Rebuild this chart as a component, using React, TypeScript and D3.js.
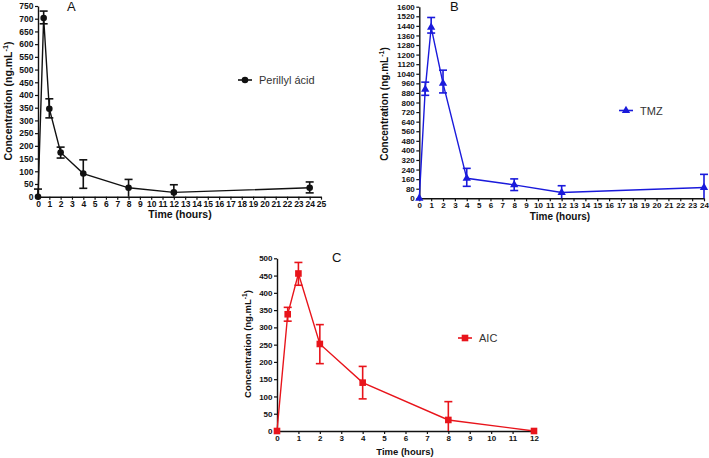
import { useEffect, useRef } from 'react'
import * as d3 from 'd3'

// sampling times (hours)
const timesA = [0, 0.5, 1, 2, 4, 8, 12, 24]
const timesB = [0, 0.5, 1, 2, 4, 8, 12, 24]
const timesC = [0, 0.5, 1, 2, 4, 8, 12]

// mean concentrations and error bar ends (ng/mL)
const meanA = [0, 703, 346, 174, 91, 35, 17, 35]
const hiA = [30, 730, 385, 195, 145, 68, 47, 58]
const loA = [0, 680, 310, 152, 33, 0, 0, 15]

const meanB = [0, 910, 1428, 960, 167, 112, 48, 90]
const hiB = [0, 970, 1510, 1070, 250, 162, 105, 200]
const loB = [0, 860, 1380, 880, 100, 65, 0, 0]

const meanC = [0, 338, 456, 252, 140, 32, 0]
const hiC = [0, 358, 488, 308, 187, 85, 0]
const loC = [0, 318, 422, 195, 93, 0, 0]

const ticksXA = d3.range(0, 26)
const ticksYA = d3.range(0, 751, 50)
const ticksXB = d3.range(0, 25)
const ticksYB = d3.range(0, 1601, 80)
const ticksXC = d3.range(0, 13)
const ticksYC = d3.range(0, 501, 50)

const FONT = '"Liberation Sans", Arial, sans-serif'

type PanelCfg = {
  times: number[]
  mean: number[]
  hi: number[]
  lo: number[]
  xDomain: [number, number]
  yDomain: [number, number]
  xRange: [number, number]
  yRange: [number, number]
  xTicks: number[]
  yTicks: number[]
  color: string
  marker: 'circle' | 'triangle' | 'square'
  letter: string
  letterPos: [number, number]
  legend: string
  legendPos: [number, number]
  yLabelPos: [number, number]
  xLabelPos: [number, number]
  labelSize: number
  tickSize: number
}

const panels: PanelCfg[] = [
  {
    times: timesA, mean: meanA, hi: hiA, lo: loA,
    xDomain: [0, 25], yDomain: [0, 750],
    xRange: [38, 321], yRange: [196.7, 6],
    xTicks: ticksXA, yTicks: ticksYA,
    color: '#111', marker: 'circle',
    letter: 'A', letterPos: [67, 11],
    legend: 'Perillyl ácid', legendPos: [238, 80],
    yLabelPos: [12, 101], xLabelPos: [180, 217.5],
    labelSize: 10.5, tickSize: 8.5
  },
  {
    times: timesB, mean: meanB, hi: hiB, lo: loB,
    xDomain: [0, 24], yDomain: [0, 1600],
    xRange: [419.3, 704], yRange: [198.3, 6.7],
    xTicks: ticksXB, yTicks: ticksYB,
    color: '#1a1adb', marker: 'triangle',
    letter: 'B', letterPos: [450, 11],
    legend: 'TMZ', legendPos: [619, 110.5],
    yLabelPos: [388, 104], xLabelPos: [560, 220],
    labelSize: 10, tickSize: 8
  },
  {
    times: timesC, mean: meanC, hi: hiC, lo: loC,
    xDomain: [0, 12], yDomain: [0, 500],
    xRange: [277, 534], yRange: [431, 258.3],
    xTicks: ticksXC, yTicks: ticksYC,
    color: '#e8141b', marker: 'square',
    letter: 'C', letterPos: [332, 262],
    legend: 'AIC', legendPos: [458, 338],
    yLabelPos: [251, 344], xLabelPos: [405, 455],
    labelSize: 9.5, tickSize: 8
  }
]

function drawMarker(g, shape, x, y, color) {
  if (shape === 'circle') {
    g.append('circle').attr('cx', x).attr('cy', y).attr('r', 3.3).attr('fill', color)
  } else if (shape === 'triangle') {
    g.append('path')
      .attr('d', d3.symbol().type(d3.symbolTriangle).size(30)())
      .attr('transform', `translate(${x},${y})`)
      .attr('fill', color)
  } else {
    g.append('rect').attr('x', x - 3.3).attr('y', y - 3.3)
      .attr('width', 6.6).attr('height', 6.6).attr('fill', color)
  }
}

function drawPanel(svg, p: PanelCfg) {
  const x = d3.scaleLinear().domain(p.xDomain).range(p.xRange)
  const y = d3.scaleLinear().domain(p.yDomain).range(p.yRange)
  const g = svg.append('g')

  const yAxis = g.append('g')
    .attr('transform', `translate(${p.xRange[0]},0)`)
    .call(d3.axisLeft(y).tickValues(p.yTicks).tickFormat(d3.format('d'))
      .tickSize(3).tickSizeOuter(0).tickPadding(1.5))
  const xAxis = g.append('g')
    .attr('transform', `translate(0,${p.yRange[0]})`)
    .call(d3.axisBottom(x).tickValues(p.xTicks).tickFormat(d3.format('d'))
      .tickSize(3).tickSizeOuter(0).tickPadding(1))

  for (const ax of [xAxis, yAxis]) {
    ax.select('.domain').attr('stroke', '#111').attr('stroke-width', 1.4)
    ax.selectAll('.tick line').attr('stroke', '#111').attr('stroke-width', 1.2)
    ax.selectAll('text')
      .attr('fill', '#111')
      .style('font-family', FONT)
      .style('font-weight', 'bold')
      .style('font-size', `${p.tickSize}px`)
  }

  const pts = p.times.map((t, i) => [x(t), y(p.mean[i])] as [number, number])
  g.append('path')
    .attr('d', d3.line()(pts))
    .attr('fill', 'none')
    .attr('stroke', p.color)
    .attr('stroke-width', 1.4)

  p.times.forEach((t, i) => {
    if (p.hi[i] === p.lo[i]) return
    const cx = x(t)
    g.append('line').attr('x1', cx).attr('x2', cx)
      .attr('y1', y(p.hi[i])).attr('y2', y(p.lo[i]))
      .attr('stroke', p.color).attr('stroke-width', 1.6)
    for (const v of [p.hi[i], p.lo[i]]) {
      if (v === 0) continue
      g.append('line').attr('x1', cx - 4).attr('x2', cx + 4)
        .attr('y1', y(v)).attr('y2', y(v))
        .attr('stroke', p.color).attr('stroke-width', 1.6)
    }
  })

  pts.forEach(([px, py]) => drawMarker(g, p.marker, px, py, p.color))

  // legend
  const [lx, ly] = p.legendPos
  g.append('line').attr('x1', lx).attr('x2', lx + 14).attr('y1', ly).attr('y2', ly)
    .attr('stroke', p.color).attr('stroke-width', 1.6)
  drawMarker(g, p.marker, lx + 7, ly, p.color)
  g.append('text').attr('x', lx + 21).attr('y', ly + 4)
    .attr('fill', '#333').style('font-family', FONT).style('font-size', '11px')
    .text(p.legend)

  // panel letter
  g.append('text').attr('x', p.letterPos[0]).attr('y', p.letterPos[1])
    .attr('fill', '#111').style('font-family', FONT).style('font-size', '13px')
    .text(p.letter)

  // axis titles
  g.append('text').attr('x', p.xLabelPos[0]).attr('y', p.xLabelPos[1])
    .attr('text-anchor', 'middle').attr('fill', '#111')
    .style('font-family', FONT).style('font-weight', 'bold').style('font-size', `${p.labelSize}px`)
    .text('Time (hours)')

  const yl = g.append('text')
    .attr('transform', `translate(${p.yLabelPos[0]},${p.yLabelPos[1]}) rotate(-90)`)
    .attr('text-anchor', 'middle').attr('fill', '#111')
    .style('font-family', FONT).style('font-weight', 'bold').style('font-size', `${p.labelSize}px`)
  yl.append('tspan').text('Concentration (ng.mL')
  yl.append('tspan').attr('dy', -4).style('font-size', `${p.labelSize * 0.7}px`).text('-1')
  yl.append('tspan').attr('dy', 4).text(')')
}

export default function App() {
  const svgRef = useRef(null)

  useEffect(() => {
    svgRef.current.innerHTML = ''
    const svg = d3.select(svgRef.current)
    panels.forEach(p => drawPanel(svg, p))
  }, [])

  return (
    <svg
      ref={svgRef}
      width={709}
      height={458}
      viewBox="0 0 709 458"
      style={{ position: 'absolute', left: 0, top: 0, background: '#fff', display: 'block' }}
    />
  )
}
